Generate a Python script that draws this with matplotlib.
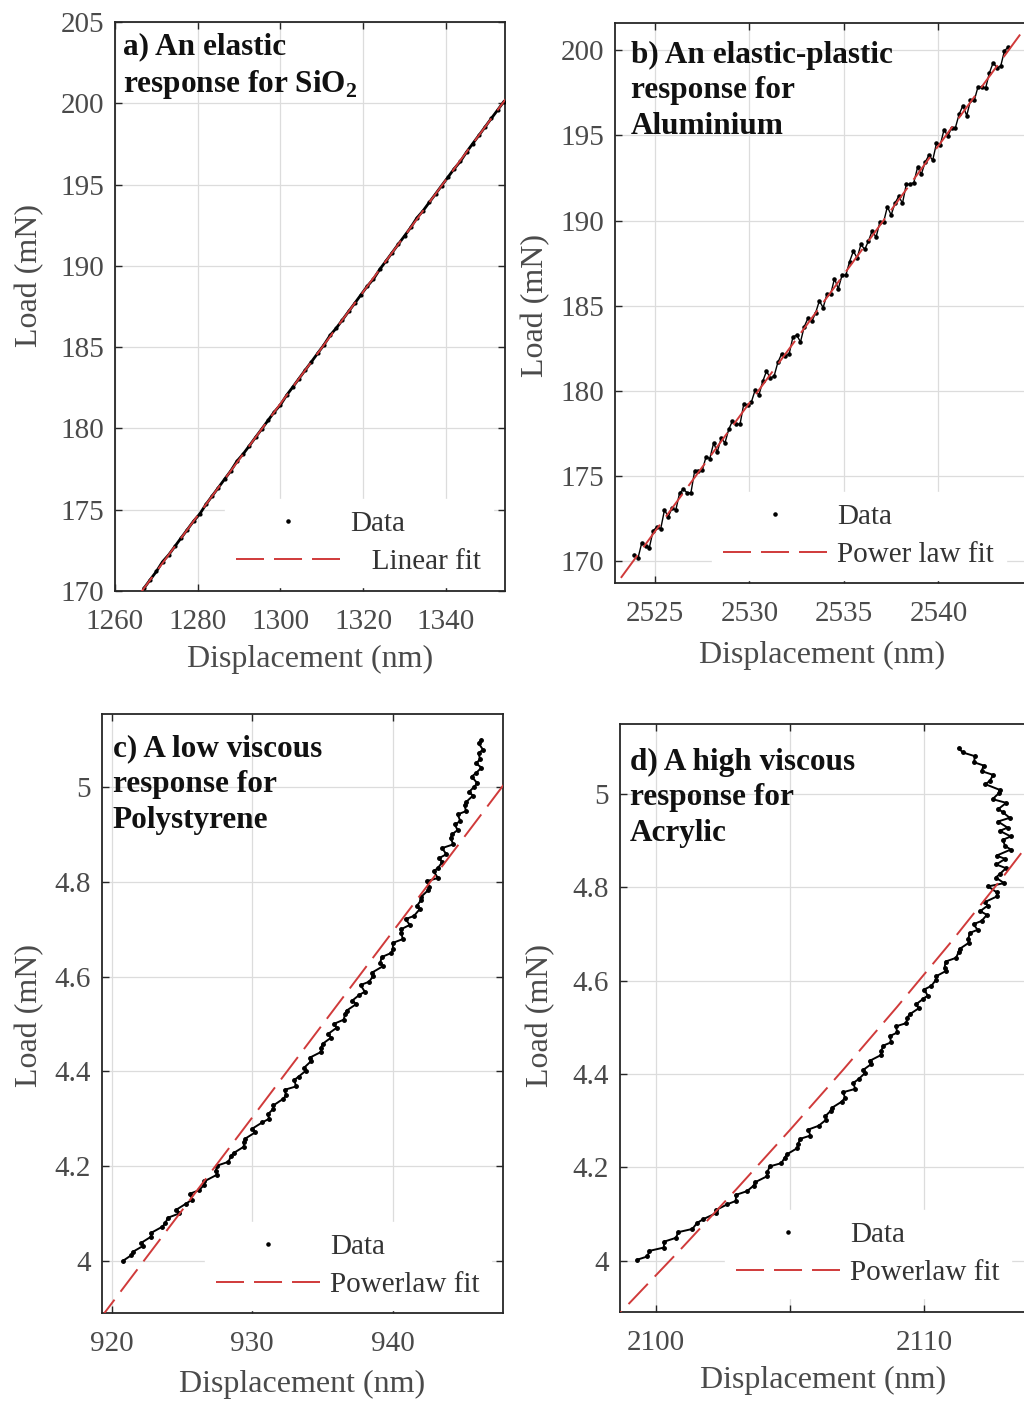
import matplotlib
matplotlib.use('Agg')
import matplotlib.pyplot as plt
from matplotlib.lines import Line2D
from matplotlib.ticker import FormatStrFormatter

plt.rcParams['font.family'] = ['Liberation Serif', 'DejaVu Serif']
plt.rcParams['mathtext.fontset'] = 'custom'
plt.rcParams['mathtext.rm'] = 'Liberation Serif'
plt.rcParams['mathtext.bf'] = 'Liberation Serif:bold'

# a) SiO2 - elastic
disp_a = [1267.0, 1268.5, 1270.0, 1271.5, 1273.0, 1274.5, 1276.0, 1277.5, 1279.0, 1280.5,
          1282.0, 1283.5, 1285.0, 1286.5, 1288.0, 1289.5, 1291.0, 1292.5, 1294.0, 1295.5,
          1297.0, 1298.5, 1300.0, 1301.5, 1303.0, 1304.5, 1306.0, 1307.5, 1309.0, 1310.5,
          1312.0, 1313.5, 1315.0, 1316.5, 1318.0, 1319.5, 1321.0, 1322.5, 1324.0, 1325.5,
          1327.0, 1328.5, 1330.0, 1331.5, 1333.0, 1334.5, 1336.0, 1337.5, 1339.0, 1340.5,
          1342.0, 1343.5, 1345.0, 1346.5, 1348.0, 1349.5, 1351.0, 1352.5, 1354.0]
load_a = [170.17, 170.69, 171.20, 171.80, 172.23, 172.75, 173.27, 173.78, 174.30, 174.74,
          175.33, 175.85, 176.36, 176.88, 177.39, 177.99, 178.43, 178.94, 179.46, 179.97,
          180.49, 181.01, 181.45, 182.04, 182.55, 183.07, 183.59, 184.10, 184.62, 185.13,
          185.72, 186.17, 186.68, 187.20, 187.71, 188.23, 188.75, 189.19, 189.78, 190.29,
          190.81, 191.33, 191.84, 192.36, 192.95, 193.39, 193.91, 194.42, 194.94, 195.45,
          195.97, 196.42, 197.00, 197.52, 198.03, 198.55, 199.07, 199.58, 200.10]
fit_disp_a = [1265.0, 1357.0]
fit_load_a = [169.48, 201.13]

# b) Aluminium - elastic-plastic
disp_b = [2523.9, 2524.1, 2524.3, 2524.5, 2524.7, 2524.9, 2525.1, 2525.3, 2525.5, 2525.7,
          2525.9, 2526.1, 2526.3, 2526.5, 2526.7, 2526.9, 2527.1, 2527.3, 2527.5, 2527.7,
          2527.9, 2528.1, 2528.3, 2528.5, 2528.7, 2528.9, 2529.1, 2529.3, 2529.5, 2529.7,
          2529.9, 2530.1, 2530.3, 2530.5, 2530.7, 2530.9, 2531.1, 2531.3, 2531.5, 2531.7,
          2531.9, 2532.1, 2532.3, 2532.5, 2532.7, 2532.9, 2533.1, 2533.3, 2533.5, 2533.7,
          2533.9, 2534.1, 2534.3, 2534.5, 2534.7, 2534.9, 2535.1, 2535.3, 2535.5, 2535.7,
          2535.9, 2536.1, 2536.3, 2536.5, 2536.7, 2536.9, 2537.1, 2537.3, 2537.5, 2537.7,
          2537.9, 2538.1, 2538.3, 2538.5, 2538.7, 2538.9, 2539.1, 2539.3, 2539.5, 2539.7,
          2539.9, 2540.1, 2540.3, 2540.5, 2540.7, 2540.9, 2541.1, 2541.3, 2541.5, 2541.7,
          2541.9, 2542.1, 2542.3, 2542.5, 2542.7, 2542.9, 2543.1, 2543.3, 2543.5, 2543.7]
load_b = [170.38, 170.18, 171.08, 170.89, 170.79, 171.79, 171.99, 171.89, 173.00, 172.60,
          173.10, 173.00, 174.00, 174.21, 174.01, 174.01, 175.31, 175.31, 175.32, 176.12,
          176.02, 176.92, 176.42, 177.23, 176.93, 177.73, 178.23, 178.03, 178.04, 179.24,
          179.14, 179.34, 180.04, 179.75, 180.55, 181.15, 180.75, 180.85, 181.66, 182.16,
          182.06, 182.16, 183.16, 183.27, 182.87, 183.77, 184.27, 184.07, 184.58, 185.28,
          184.88, 185.68, 185.68, 186.59, 185.99, 186.79, 186.79, 187.59, 188.20, 187.80,
          188.60, 188.30, 188.80, 189.41, 189.01, 189.91, 189.91, 190.81, 190.32, 191.02,
          191.42, 191.02, 192.12, 192.13, 192.23, 193.13, 192.73, 193.43, 193.84, 193.54,
          194.54, 194.44, 195.34, 194.95, 195.45, 195.45, 196.25, 196.75, 196.16, 197.06,
          197.06, 197.86, 197.86, 197.77, 198.67, 199.27, 198.97, 199.07, 199.98, 200.18]
fit_disp_b = [2522.0, 2547.0]
fit_load_b = [167.21, 204.96]

# c) Polystyrene - low viscous
disp_c = [920.8, 921.4, 921.5, 922.2, 922.1, 922.8, 922.8, 923.6, 923.8, 924.0,
          924.8, 924.6, 925.3, 925.7, 925.6, 926.2, 926.6, 926.6, 927.5, 927.4,
          927.5, 928.3, 928.5, 928.7, 929.4, 929.4, 929.5, 930.2, 930.0, 930.7,
          931.2, 931.1, 931.5, 931.5, 932.2, 932.4, 932.3, 933.1, 933.0, 933.3,
          933.8, 933.7, 934.2, 934.1, 934.9, 934.9, 935.0, 935.6, 935.4, 936.0,
          935.8, 936.5, 936.6, 936.7, 937.4, 937.1, 937.6, 938.0, 937.7, 938.3,
          938.6, 938.5, 939.3, 939.1, 939.2, 939.9, 940.0, 940.0, 940.7, 940.6,
          940.6, 941.2, 940.9, 941.5, 941.9, 941.7, 942.0, 942.0, 942.5, 942.6,
          942.4, 943.2, 942.9, 943.2, 943.5, 943.3, 943.8, 943.5, 944.3, 944.1,
          944.2, 944.6, 944.4, 944.8, 944.6, 945.2, 945.1, 945.2, 945.7, 945.4,
          945.8, 946.0, 945.6, 945.9, 946.3, 945.9, 946.2, 946.1, 946.4, 946.1,
          946.3]
load_c = [4.000, 4.012, 4.019, 4.031, 4.038, 4.051, 4.059, 4.072, 4.079, 4.091,
          4.100, 4.108, 4.121, 4.129, 4.142, 4.149, 4.161, 4.168, 4.182, 4.189,
          4.201, 4.209, 4.222, 4.228, 4.241, 4.250, 4.258, 4.271, 4.279, 4.292,
          4.300, 4.309, 4.321, 4.328, 4.342, 4.349, 4.361, 4.368, 4.382, 4.389,
          4.401, 4.408, 4.422, 4.429, 4.441, 4.450, 4.458, 4.471, 4.479, 4.492,
          4.500, 4.509, 4.521, 4.528, 4.542, 4.549, 4.561, 4.568, 4.582, 4.589,
          4.601, 4.608, 4.622, 4.629, 4.641, 4.650, 4.658, 4.671, 4.679, 4.692,
          4.700, 4.709, 4.721, 4.728, 4.742, 4.749, 4.761, 4.768, 4.782, 4.789,
          4.801, 4.808, 4.822, 4.829, 4.841, 4.850, 4.858, 4.871, 4.879, 4.892,
          4.900, 4.909, 4.921, 4.928, 4.942, 4.949, 4.961, 4.968, 4.982, 4.989,
          5.001, 5.008, 5.022, 5.029, 5.041, 5.050, 5.058, 5.071, 5.079, 5.092,
          5.100]
fit_disp_c = [919.0, 948.5]
fit_load_c = [3.871, 5.029]

# d) Acrylic - high viscous
disp_d = [2099.30, 2099.68, 2099.76, 2100.29, 2100.32, 2100.75, 2100.83, 2101.36, 2101.54, 2101.77,
          2102.25, 2102.26, 2102.67, 2102.98, 2102.99, 2103.40, 2103.65, 2103.70, 2104.15, 2104.15,
          2104.25, 2104.68, 2104.81, 2104.89, 2105.27, 2105.30, 2105.38, 2105.76, 2105.69, 2106.07,
          2106.35, 2106.31, 2106.52, 2106.58, 2106.94, 2107.05, 2106.99, 2107.43, 2107.37, 2107.56,
          2107.80, 2107.74, 2108.03, 2107.97, 2108.41, 2108.40, 2108.49, 2108.78, 2108.72, 2109.01,
          2108.95, 2109.34, 2109.38, 2109.47, 2109.81, 2109.70, 2109.97, 2110.14, 2110.01, 2110.28,
          2110.45, 2110.44, 2110.83, 2110.77, 2110.81, 2111.20, 2111.29, 2111.33, 2111.67, 2111.66,
          2111.70, 2112.00, 2111.85, 2112.15, 2112.35, 2112.10, 2112.38, 2112.26, 2112.74, 2112.72,
          2112.40, 2112.99, 2112.68, 2112.82, 2113.06, 2112.70, 2113.03, 2112.71, 2113.24, 2113.02,
          2112.95, 2113.24, 2112.83, 2113.12, 2112.76, 2113.20, 2112.94, 2112.78, 2113.07, 2112.56,
          2112.80, 2112.82, 2112.29, 2112.46, 2112.58, 2112.15, 2112.23, 2111.87, 2111.90, 2111.45,
          2111.30]
load_d = [4.002, 4.009, 4.021, 4.028, 4.041, 4.049, 4.061, 4.068, 4.081, 4.089,
          4.102, 4.109, 4.121, 4.128, 4.141, 4.149, 4.161, 4.168, 4.181, 4.189,
          4.202, 4.209, 4.221, 4.228, 4.241, 4.249, 4.261, 4.268, 4.281, 4.289,
          4.302, 4.309, 4.321, 4.328, 4.341, 4.349, 4.361, 4.368, 4.381, 4.389,
          4.402, 4.409, 4.421, 4.428, 4.441, 4.449, 4.461, 4.468, 4.481, 4.489,
          4.502, 4.509, 4.521, 4.528, 4.541, 4.549, 4.561, 4.568, 4.581, 4.589,
          4.602, 4.609, 4.621, 4.628, 4.641, 4.649, 4.661, 4.668, 4.681, 4.689,
          4.702, 4.709, 4.721, 4.728, 4.741, 4.749, 4.761, 4.768, 4.781, 4.789,
          4.802, 4.809, 4.821, 4.828, 4.841, 4.849, 4.861, 4.868, 4.881, 4.889,
          4.902, 4.909, 4.921, 4.928, 4.941, 4.949, 4.961, 4.968, 4.981, 4.989,
          5.002, 5.009, 5.021, 5.028, 5.041, 5.049, 5.061, 5.068, 5.081, 5.089,
          5.098]
fit_disp_d = [2098.0, 2101.0, 2103.0, 2105.0, 2107.0, 2109.0, 2111.0, 2113.0, 2115.0]
fit_load_d = [3.848, 4.029, 4.153, 4.280, 4.410, 4.544, 4.682, 4.826, 4.976]

RED = '#d03a3a'
GREY_TXT = '#4a4a4a'
DASH = (14.4, 5.15)

W, H = 1024, 1401
fig = plt.figure(figsize=(W / 100, H / 100), dpi=100)


def add_axes_px(left, top, right, bottom):
    return fig.add_axes([left / W, 1 - bottom / H, (right - left) / W, (bottom - top) / H])


def draw_panel(ax, disp, load, fdisp, fload, title, title_xy, fit_label, leg_xy,
               xlim, ylim, xticks, yticks, xlab_xy, ylab_xy, xticklabels=None,
               data_lw=1.4, data_ms=5):
    ax.plot(disp, load, '-', color='k', lw=data_lw, zorder=3)
    ax.plot(disp, load, '.', color='k', ms=data_ms, zorder=3)
    ax.plot(fdisp, fload, color=RED, lw=1.4, dashes=DASH, zorder=4)

    ax.set_xlim(*xlim)
    ax.set_ylim(*ylim)
    ax.set_xticks(xticks)
    ax.set_yticks(yticks)
    if xticklabels is not None:
        ax.set_xticklabels(xticklabels)
    ax.yaxis.set_major_formatter(FormatStrFormatter('%g'))
    ax.grid(True, color='#dcdcdc', lw=0.9)
    ax.set_axisbelow(True)
    ax.tick_params(direction='in', length=5, width=1, top=True, right=True,
                   labelsize=21, labelcolor=GREY_TXT, color='#262626', pad=8)
    ax.tick_params(axis='x', pad=13)
    for sp in ax.spines.values():
        sp.set_linewidth(1.3)
        sp.set_color('#262626')

    ax.set_xlabel('Displacement (nm)', fontsize=23, color=GREY_TXT)
    ax.set_ylabel('Load (mN)', fontsize=23, color=GREY_TXT)
    ax.xaxis.set_label_coords(*xlab_xy)
    ax.yaxis.set_label_coords(*ylab_xy)
    ax.xaxis.label.set_va('center')
    ax.yaxis.label.set_va('center')

    ax.text(title_xy[0], title_xy[1], title, transform=ax.transAxes, ha='left', va='top',
            fontsize=22.5, fontweight='bold', linespacing=1.3, color='#111111', zorder=6)

    handles = [Line2D([], [], ls='none', marker='.', color='k', ms=4.5, label='Data'),
               Line2D([], [], color=RED, lw=1.4, dashes=DASH, label=fit_label)]
    leg = ax.legend(handles=handles, loc='center left',
                    bbox_to_anchor=(leg_xy[0] / W, 1 - leg_xy[1] / H),
                    bbox_transform=fig.transFigure, fontsize=21, handlelength=3.56,
                    handletextpad=0.35, labelspacing=0.4, borderpad=0.4,
                    frameon=True, fancybox=False, framealpha=1)
    leg.get_frame().set_facecolor('white')
    leg.get_frame().set_edgecolor('white')
    for t in leg.get_texts():
        t.set_color('#333333')


ax_a = add_axes_px(115, 22, 505, 591)
draw_panel(ax_a, disp_a, load_a, fit_disp_a, fit_load_a,
           'a) An elastic\nresponse for SiO$_\\mathbf{2}$', (0.02, 0.982),
           '   Linear fit', (210, 543),
           (1260, 1354.3), (170, 205), [1260, 1280, 1300, 1320, 1340],
           [170, 175, 180, 185, 190, 195, 200, 205], (0.5, -0.121), (-0.218, 0.555),
           data_lw=2.0, data_ms=4)

ax_b = add_axes_px(615, 22.7, 1040, 583.3)
draw_panel(ax_b, disp_b, load_b, fit_disp_b, fit_load_b,
           'b) An elastic-plastic\nresponse for\nAluminium', (0.038, 0.968),
           'Power law fit', (697, 536),
           (2522.88, 2545.38), (168.69, 201.62), [2525, 2530, 2535, 2540],
           [170, 175, 180, 185, 190, 195, 200], (0.487, -0.128), (-0.188, 0.496),
           data_lw=1.0, data_ms=4.5)

ax_c = add_axes_px(101.7, 714, 503, 1313)
draw_panel(ax_c, disp_c, load_c, fit_disp_c, fit_load_c,
           'c) A low viscous\nresponse for\nPolystyrene', (0.028, 0.966),
           'Powerlaw fit', (190, 1266),
           (919.29, 947.83), (3.89, 5.154), [920, 930, 940],
           [4.0, 4.2, 4.4, 4.6, 4.8, 5.0], (0.499, -0.12), (-0.179, 0.497))

ax_d = add_axes_px(620, 724, 1040, 1312)
draw_panel(ax_d, disp_d, load_d, fit_disp_d, fit_load_d,
           'd) A high viscous\nresponse for\nAcrylic', (0.024, 0.96),
           'Powerlaw fit', (710, 1254),
           (2098.66, 2114.33), (3.89, 5.15), [2100, 2105, 2110],
           [4.0, 4.2, 4.4, 4.6, 4.8, 5.0], (0.483, -0.116), (-0.19, 0.505),
           xticklabels=['2100', '', '2110'])

fig.savefig('out.png', dpi=100)
